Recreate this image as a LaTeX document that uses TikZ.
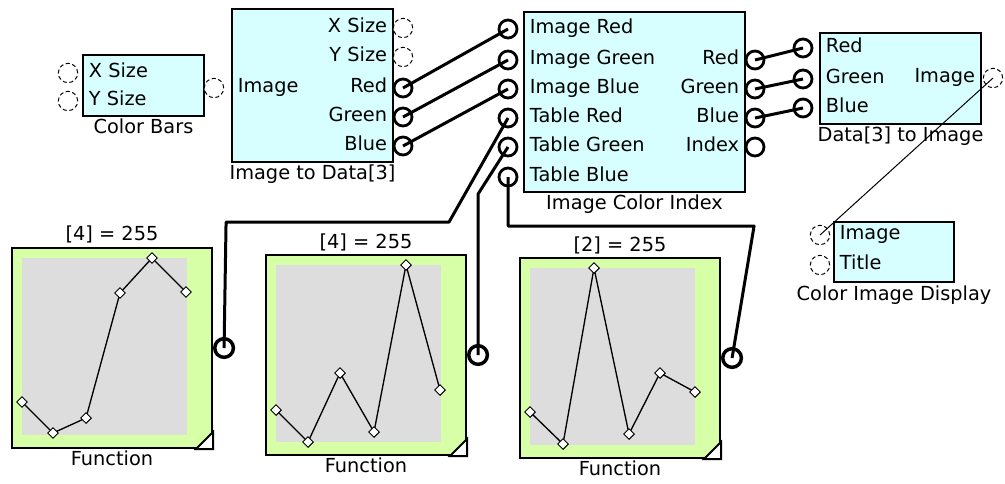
\documentclass[tikz,border=0pt]{standalone}
\usepackage{fontspec}
\setmainfont{DejaVu Sans}
\usetikzlibrary{positioning, calc, plotmarks}

\definecolor{blockcyan}{RGB}{216,255,255}
\definecolor{fngreen}{RGB}{214,255,168}
\definecolor{fngray}{RGB}{221,221,221}
\newcommand\portfont{\fontsize{14.5pt}{17pt}\selectfont}

\begin{document}
\begin{tikzpicture}[
    x=0.75pt, y=-0.75pt,
    block/.style={draw, line width=1.5pt, fill=blockcyan, anchor=north west, inner sep=0pt},
    fnblock/.style={draw, line width=1.5pt, fill=fngreen, anchor=north west, minimum width=150pt, minimum height=150pt, inner sep=0pt},
    openport/.style={draw, circle, densely dashed, line width=0.75pt, fill=white, minimum size=14.5pt, inner sep=0pt},
    dataport/.style={draw, circle, line width=2.1pt, fill=white, minimum size=13.5pt, inner sep=0pt},
    fnport/.style={draw, circle, line width=2.6pt, fill=white, minimum size=14pt, inner sep=0pt},
    port text/.style={font=\portfont, inner xsep=5pt, inner ysep=0pt, text height=1.5ex, text depth=.25ex},
    blocklabel/.style={font=\portfont, inner sep=0pt, text height=1.5ex, text depth=.25ex},
    wire/.style={line width=2.25pt, line join=round},
    thin wire/.style={line width=0.75pt},
    fnplot/.style={line width=1pt, mark=square*, mark size=2.8pt, mark options={rotate=45, fill=white, line width=0.75pt, solid}}
]
\useasboundingbox (0,0) rectangle (1005,483);

% Blocks
\node[block, minimum width=90.75pt, minimum height=45.75pt] (CB) at (82,54) {};
\node[block, minimum width=120.75pt, minimum height=114.75pt] (ITD) at (231,8) {};
\node[block, minimum width=165.75pt, minimum height=135pt] (ICI) at (523,11) {};
\node[block, minimum width=120.75pt, minimum height=68.25pt] (DTI) at (819,32) {};
\node[block, minimum width=90pt, minimum height=45pt] (CID) at (833,221) {};
\node[fnblock] (F1) at (11,247) {};
\node[fnblock] (F2) at (265,254) {};
\node[fnblock] (F3) at (519,257) {};

% Function plots
\fill[fngray] ($(F1.north west)+(11,11)$) rectangle ($(F1.south east)+(-26,-14)$);
\fill[fngray] ($(F2.north west)+(11,11)$) rectangle ($(F2.south east)+(-26,-14)$);
\fill[fngray] ($(F3.north west)+(11,11)$) rectangle ($(F3.south east)+(-26,-14)$);
\filldraw[fill=white, line width=1.5pt] ($(F1.south east)+(0,-17)$) -- (F1.south east) -- ($(F1.south east)+(-17,0)$) -- cycle;
\filldraw[fill=white, line width=1.5pt] ($(F2.south east)+(0,-17)$) -- (F2.south east) -- ($(F2.south east)+(-17,0)$) -- cycle;
\filldraw[fill=white, line width=1.5pt] ($(F3.south east)+(0,-17)$) -- (F3.south east) -- ($(F3.south east)+(-17,0)$) -- cycle;
\draw[fnplot] plot coordinates {(22,402) (53,433) (86,418) (120,293) (152,258) (186,292)};
\draw[fnplot] plot coordinates {(276,410) (308,442) (340,373) (374,432) (406,265) (440,390)};
\draw[fnplot] plot coordinates {(530,412) (563,444) (594,268) (629,434) (660,373) (695,392)};

% Ports
\node[openport] (cbX) at (68,73) {};
\node[openport] (cbY) at (68,101) {};
\node[openport] (cbOut) at (214,88) {};
\node[openport] (itdX) at (403,28) {};
\node[openport] (itdY) at (403,57) {};
\node[dataport] (itdR) at (403,88) {};
\node[dataport] (itdG) at (403,117) {};
\node[dataport] (itdB) at (403,146) {};
\node[dataport] (iciIR) at (508,29) {};
\node[dataport] (iciIG) at (508,60) {};
\node[dataport] (iciIB) at (508,89) {};
\node[dataport] (iciTR) at (508,118) {};
\node[dataport] (iciTG) at (508,147) {};
\node[dataport] (iciTB) at (508,177) {};
\node[dataport] (iciR) at (755,60) {};
\node[dataport] (iciG) at (755,89) {};
\node[dataport] (iciB) at (755,118) {};
\node[dataport] (iciIdx) at (755,147) {};
\node[dataport] (dtiR) at (803,48) {};
\node[dataport] (dtiG) at (803,79) {};
\node[dataport] (dtiB) at (803,108) {};
\node[openport] (dtiImg) at (993,78) {};
\node[openport] (cidImg) at (820,235) {};
\node[openport] (cidTitle) at (820,265) {};
\node[fnport, right=0pt of F1] (f1Out) {};
\node[fnport, right=0pt of F2] (f2Out) {};
\node[fnport, right=0pt of F3] (f3Out) {};

% Port texts
\node[port text, anchor=west] at (cbX -| CB.west) {X Size};
\node[port text, anchor=west] at (cbY -| CB.west) {Y Size};
\node[port text, anchor=west] at (cbOut -| ITD.west) {Image};
\node[port text, anchor=east] at (itdX -| ITD.east) {X Size};
\node[port text, anchor=east] at (itdY -| ITD.east) {Y Size};
\node[port text, anchor=east] at (itdR -| ITD.east) {Red};
\node[port text, anchor=east] at (itdG -| ITD.east) {Green};
\node[port text, anchor=east] at (itdB -| ITD.east) {Blue};
\node[port text, anchor=west] at (iciIR -| ICI.west) {Image Red};
\node[port text, anchor=west] at (iciIG -| ICI.west) {Image Green};
\node[port text, anchor=west] at (iciIB -| ICI.west) {Image Blue};
\node[port text, anchor=west] at (iciTR -| ICI.west) {Table Red};
\node[port text, anchor=west] at (iciTG -| ICI.west) {Table Green};
\node[port text, anchor=west] at (iciTB -| ICI.west) {Table Blue};
\node[port text, anchor=east] at (iciR -| ICI.east) {Red};
\node[port text, anchor=east] at (iciG -| ICI.east) {Green};
\node[port text, anchor=east] at (iciB -| ICI.east) {Blue};
\node[port text, anchor=east] at (iciIdx -| ICI.east) {Index};
\node[port text, anchor=west] at (dtiR -| DTI.west) {Red};
\node[port text, anchor=west] at (dtiG -| DTI.west) {Green};
\node[port text, anchor=west] at (dtiB -| DTI.west) {Blue};
\node[port text, anchor=east] at (dtiImg -| DTI.east) {Image};
\node[port text, anchor=west] at (cidImg -| CID.west) {Image};
\node[port text, anchor=west] at (cidTitle -| CID.west) {Title};

% Block labels
\node[blocklabel, below=4pt of CB] {Color Bars};
\node[blocklabel, below=4pt of ITD] {Image to Data[3]};
\node[blocklabel, below=4pt of ICI] {Image Color Index};
\node[blocklabel, below=4pt of DTI] {Data[3] to Image};
\node[blocklabel, below=4.5pt of CID] {Color Image Display};
\node[blocklabel, below=4pt of F1] {Function};
\node[blocklabel, below=4pt of F2] {Function};
\node[blocklabel, below=4pt of F3] {Function};
\node[blocklabel, above=3pt of F1] {[4] = 255};
\node[blocklabel, above=2.5pt of F2] {[4] = 255};
\node[blocklabel, above=2.5pt of F3] {[2] = 255};

% Wires
\draw[wire] (itdR.center) -- (iciIR.center);
\draw[wire] (itdG.center) -- (iciIG.center);
\draw[wire] (itdB.center) -- (iciIB.center);
\draw[wire] (iciR.center) -- (dtiR.center);
\draw[wire] (iciG.center) -- (dtiG.center);
\draw[wire] (iciB.center) -- (dtiB.center);
\draw[wire] (f1Out.center) -- ++(2,-126) -- ++(223,0) -- (iciTR.center);
\draw[wire] (f2Out.center) -- ++(0,-161) -- (iciTG.center);
\draw[wire] (f3Out.center) -- ++(22,-132) -| (iciTB.center);
\draw[thin wire] (dtiImg.center) -- (cidImg.center);

\end{tikzpicture}
\end{document}
